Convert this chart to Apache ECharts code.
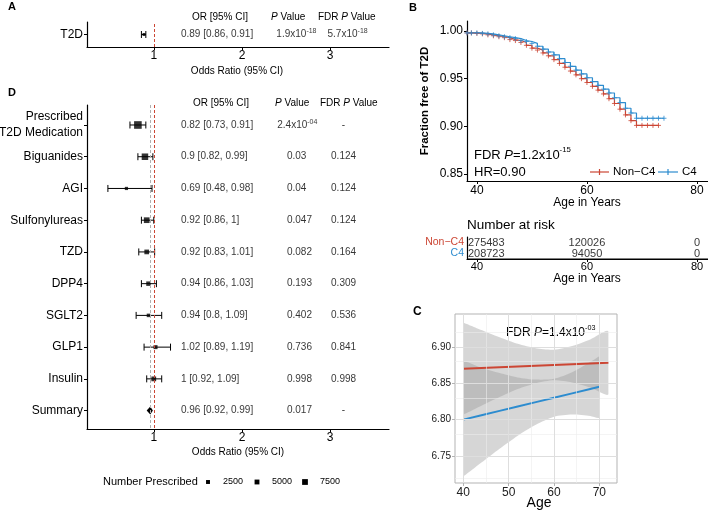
<!DOCTYPE html>
<html>
<head>
<meta charset="utf-8">
<script src="https://cdn.jsdelivr.net/npm/echarts@6.0.0/dist/echarts.min.js"></script>
<style>
html,body{margin:0;padding:0;background:#fff}
#main{width:708px;height:513px}
</style>
</head>
<body>
<div id="main"></div>
<script>
var FONT = '"Liberation Sans", Arial, Helvetica, sans-serif';
var RED = '#cc4634';
var BLUE = '#2d8ccf';

// panel A - T2D
var t2dNames = ['T2D'];
var t2dOR = [0.89];
var t2dLow = [0.86];
var t2dHigh = [0.91];
var t2dORText = ['0.89 [0.86, 0.91]'];
var t2dPText = ['1.9x10^-18'];
var t2dFdrText = ['5.7x10^-18'];

// panel D - medications
var drugs = ['Prescribed\nT2D Medication', 'Biguanides', 'AGI', 'Sulfonylureas', 'TZD', 'DPP4', 'SGLT2', 'GLP1', 'Insulin', 'Summary'];
var drugOR = [0.82, 0.9, 0.69, 0.92, 0.92, 0.94, 0.94, 1.02, 1, 0.96];
var drugLow = [0.73, 0.82, 0.48, 0.86, 0.83, 0.86, 0.8, 0.89, 0.92, 0.92];
var drugHigh = [0.91, 0.99, 0.98, 1, 1.01, 1.03, 1.09, 1.19, 1.09, 0.99];
var nPrescribed = [12500, 9500, 600, 7300, 4600, 4000, 1400, 2700, 4800, null];
var drugORText = ['0.82 [0.73, 0.91]', '0.9 [0.82, 0.99]', '0.69 [0.48, 0.98]', '0.92 [0.86, 1]', '0.92 [0.83, 1.01]', '0.94 [0.86, 1.03]', '0.94 [0.8, 1.09]', '1.02 [0.89, 1.19]', '1 [0.92, 1.09]', '0.96 [0.92, 0.99]'];
var drugPText = ['2.4x10^-04', '0.03', '0.04', '0.047', '0.082', '0.193', '0.402', '0.736', '0.998', '0.017'];
var drugFdrText = ['-', '0.124', '0.124', '0.124', '0.164', '0.309', '0.536', '0.841', '0.998', '-'];
var legendN = [2500, 5000, 7500];

// panel B - survival
var kmAgeNon = [38.2, 39, 40, 41, 42, 43, 44, 45, 46, 47, 48, 49, 50, 51, 52, 53, 54, 55, 56, 57, 58, 59, 60, 61, 62, 63, 64, 65, 66, 67, 68, 69, 70, 71, 72, 73];
var kmNon = [0.998, 0.998, 0.9975, 0.997, 0.996, 0.995, 0.994, 0.993, 0.991, 0.990, 0.988, 0.985, 0.982, 0.980, 0.977, 0.974, 0.970, 0.966, 0.962, 0.958, 0.954, 0.950, 0.946, 0.942, 0.938, 0.934, 0.929, 0.924, 0.918, 0.912, 0.906, 0.901, 0.901, 0.901, 0.901, 0.901];
var kmAgeC4 = [38.2, 39, 40, 41, 42, 43, 44, 45, 46, 47, 48, 49, 50, 51, 52, 53, 54, 55, 56, 57, 58, 59, 60, 61, 62, 63, 64, 65, 66, 67, 68, 69, 70, 71, 72, 73, 74];
var kmC4 = [0.998, 0.998, 0.998, 0.9975, 0.997, 0.996, 0.995, 0.994, 0.993, 0.992, 0.990, 0.989, 0.987, 0.984, 0.981, 0.978, 0.975, 0.971, 0.967, 0.963, 0.959, 0.955, 0.951, 0.947, 0.943, 0.939, 0.935, 0.930, 0.925, 0.919, 0.914, 0.9085, 0.9085, 0.9085, 0.9085, 0.9085, 0.9085];
var riskGroups = ['C4', 'Non\u2212C4'];
var riskAges = [40, 60, 80];
var riskNon = [275483, 120026, 0];
var riskC4 = [208723, 94050, 0];

// panel C - trend by age
var cAgeRed = [40, 44, 48, 52, 56, 60, 64, 68, 72];
var cFitRed = [6.870, 6.871, 6.872, 6.873, 6.874, 6.875, 6.876, 6.877, 6.878];
var cLowRed = [6.807, 6.819, 6.831, 6.842, 6.850, 6.854, 6.851, 6.844, 6.835];
var cHighRed = [6.933, 6.923, 6.913, 6.904, 6.898, 6.896, 6.901, 6.910, 6.921];
var cAgeBlue = [40, 44, 48, 52, 56, 60, 64, 68, 70];
var cFitBlue = [6.800, 6.806, 6.812, 6.818, 6.824, 6.830, 6.836, 6.842, 6.845];
var cLowBlue = [6.722, 6.741, 6.760, 6.778, 6.793, 6.804, 6.807, 6.805, 6.803];
var cHighBlue = [6.878, 6.871, 6.864, 6.858, 6.855, 6.856, 6.865, 6.879, 6.887];

function sqSize(n) { return 3 + n * 0.00037; }

function supText(t) {
  var parts = t.split('^');
  if (parts.length > 1) return '{n|' + parts[0] + '}{s|' + parts[1] + '}';
  return '{n|' + t + '}';
}
var richNum = {
  n: { fontSize: 10, fontFamily: FONT, color: '#000', lineHeight: 13 },
  s: { fontSize: 7, fontFamily: FONT, color: '#000', verticalAlign: 'top' }
};

function pts(xs, ys) { return xs.map(function (x, i) { return [x, ys[i]]; }); }

var blackAxis = { show: true, onZero: false, lineStyle: { color: '#000', width: 1.2 } };

function forestX(gi) {
  return {
    type: 'value', gridIndex: gi, min: 0.243, max: 3.667,
    axisLine: blackAxis, splitLine: { show: false },
    axisTick: { customValues: [1, 2, 3], length: 3, lineStyle: { color: '#000' } },
    axisLabel: { customValues: [1, 2, 3], fontSize: 12, color: '#000', margin: 3, fontFamily: FONT }
  };
}

function errorBars(xi, lows, highs, n) {
  var data = [];
  for (var i = 0; i < n; i++) data.push([lows[i], highs[i], i + 1]);
  return {
    type: 'custom', xAxisIndex: xi, yAxisIndex: xi, silent: true, z: 3,
    data: data,
    renderItem: function (params, api) {
      var y = api.value(2);
      var a = api.coord([api.value(0), y]);
      var b = api.coord([api.value(1), y]);
      var h = 3.5, st = { stroke: '#000', lineWidth: 1 };
      return { type: 'group', children: [
        { type: 'line', shape: { x1: a[0], y1: a[1], x2: b[0], y2: b[1] }, style: st },
        { type: 'line', shape: { x1: a[0], y1: a[1] - h, x2: a[0], y2: a[1] + h }, style: st },
        { type: 'line', shape: { x1: b[0], y1: b[1] - h, x2: b[0], y2: b[1] + h }, style: st }
      ] };
    }
  };
}

function textCol(xi, xval, texts, rows) {
  return {
    type: 'scatter', xAxisIndex: xi, yAxisIndex: xi, symbolSize: 0, silent: true,
    data: texts.map(function (t, i) { return [typeof xval === 'function' ? xval(t) : xval, rows[i], t]; }),
    label: {
      show: true, position: 'right', distance: 0,
      formatter: function (p) { return supText(p.value[2]); },
      rich: richNum
    }
  };
}

// confidence ribbon drawn as one polygon through the axis scales
function ribbon(ages, lows, highs) {
  return {
    type: 'custom', xAxisIndex: 4, yAxisIndex: 4, silent: true, z: 2,
    data: [[ages[0], lows[0]]],
    renderItem: function (params, api) {
      var up = ages.map(function (a, i) { return api.coord([a, highs[i]]); });
      var dn = ages.map(function (a, i) { return api.coord([a, lows[i]]); }).reverse();
      var all = up.concat(dn);
      var xs = all.map(function (p) { return p[0]; }), ys = all.map(function (p) { return p[1]; });
      var box = [[Math.min.apply(null, xs), Math.min.apply(null, ys)], [Math.max.apply(null, xs), Math.max.apply(null, ys)]];
      return { type: 'polygon', shape: { points: all, smooth: 0.25, smoothConstraint: box },
        style: { fill: 'rgba(153,153,153,0.4)' } };
    }
  };
}

var rowIdx = drugs.map(function (d, i) { return i + 1; });
var pX = function (t) { return t.indexOf('^') > 0 ? 2.40 : 2.51; };
var fdrX = function (t) { return t === '-' ? 3.13 : 3.01; };

var sqData = [];
for (var i = 0; i < 9; i++) sqData.push([drugOR[i], i + 1, nPrescribed[i]]);

var option = {
  animation: false,
  textStyle: { fontFamily: FONT },
  grid: [
    { left: 87, top: 22, width: 302, height: 25, outerBoundsMode: 'none', containLabel: false },
    { left: 87, top: 105, width: 302, height: 324, outerBoundsMode: 'none', containLabel: false },
    { left: 467, top: 21, width: 241, height: 160, outerBoundsMode: 'none', containLabel: false },
    { left: 467, top: 237, width: 241, height: 22, outerBoundsMode: 'none', containLabel: false },
    { left: 455, top: 314, width: 162, height: 169, outerBoundsMode: 'none', containLabel: false,
      show: true, borderColor: '#b3b3b3', borderWidth: 1, backgroundColor: '#fff' }
  ],
  xAxis: [
    forestX(0),
    forestX(1),
    {
      type: 'value', gridIndex: 2, min: 38.2, max: 82,
      axisLine: blackAxis, splitLine: { show: false },
      axisTick: { customValues: [40, 60, 80], length: 3, lineStyle: { color: '#000' } },
      axisLabel: { customValues: [40, 60, 80], fontSize: 12, color: '#000', margin: 4 }
    },
    {
      type: 'value', gridIndex: 3, min: 38.2, max: 82, position: 'bottom',
      axisLine: blackAxis, splitLine: { show: false },
      axisTick: { show: true, customValues: [40, 60, 80], length: 3, lineStyle: { color: '#000' } },
      axisLabel: { customValues: [40, 60, 80], fontSize: 11, color: '#000', margin: 2 }
    },
    {
      type: 'value', gridIndex: 4, min: 38.17, max: 73.9,
      axisLine: { show: false }, splitLine: { show: false },
      axisTick: { customValues: [40, 50, 60, 70], length: 3, lineStyle: { color: '#b3b3b3' } },
      axisLabel: { customValues: [40, 50, 60, 70], fontSize: 12, color: '#222', margin: 4 }
    }
  ],
  yAxis: [
    {
      type: 'value', gridIndex: 0, min: 0, max: 2,
      axisLine: blackAxis, splitLine: { show: false },
      axisTick: { customValues: [1], length: 3, lineStyle: { color: '#000' } },
      axisLabel: { customValues: [1], fontSize: 12, color: '#000', margin: 4,
        formatter: function (v) { return t2dNames[Math.round(v) - 1] || ''; } }
    },
    {
      type: 'value', gridIndex: 1, min: 0.37, max: 10.58, inverse: true,
      axisLine: blackAxis, splitLine: { show: false },
      axisTick: { customValues: rowIdx, length: 3, lineStyle: { color: '#000' } },
      axisLabel: { customValues: rowIdx, fontSize: 12, color: '#000', margin: 4, lineHeight: 16,
        formatter: function (v) { return drugs[Math.round(v) - 1] || ''; } }
    },
    {
      type: 'value', gridIndex: 2, min: 0.8427, max: 1.0105,
      axisLine: blackAxis, splitLine: { show: false },
      axisTick: { customValues: [0.85, 0.9, 0.95, 1.0], length: 3, lineStyle: { color: '#000' } },
      axisLabel: { customValues: [0.85, 0.9, 0.95, 1.0], fontSize: 12, color: '#000', margin: 4,
        formatter: function (v) { return v.toFixed(2); } }
    },
    {
      type: 'category', gridIndex: 3, data: riskGroups, position: 'left',
      axisLine: blackAxis, splitLine: { show: false },
      axisTick: { alignWithLabel: true, interval: 0, length: 3, lineStyle: { color: '#000' } },
      axisLabel: { fontSize: 10.5, margin: 3, interval: 0, hideOverlap: false,
        color: function (v) { return v === 'C4' ? BLUE : RED; } }
    },
    {
      type: 'value', gridIndex: 4, min: 6.713, max: 6.945,
      axisLine: { show: false }, splitLine: { show: false },
      axisTick: { customValues: [6.75, 6.8, 6.85, 6.9], length: 3, lineStyle: { color: '#b3b3b3' } },
      axisLabel: { customValues: [6.75, 6.8, 6.85, 6.9], fontSize: 10, color: '#222', margin: 4,
        formatter: function (v) { return v.toFixed(2); } }
    }
  ],
  series: [
    // ---- A ----
    errorBars(0, t2dLow, t2dHigh, 1),
    {
      type: 'scatter', xAxisIndex: 0, yAxisIndex: 0, symbol: 'rect', symbolSize: 3, silent: true, z: 4,
      itemStyle: { color: '#000' },
      data: [[t2dOR[0], 1]],
      markLine: { silent: true, symbol: 'none', label: { show: false },
        data: [{ xAxis: 1, lineStyle: { color: RED, type: [3, 2], width: 1 } }] }
    },
    textCol(0, 1.308, t2dORText, [1]),
    textCol(0, 2.39, t2dPText, [1]),
    textCol(0, 2.97, t2dFdrText, [1]),
    // ---- D ----
    errorBars(1, drugLow, drugHigh, 9),
    {
      type: 'scatter', xAxisIndex: 1, yAxisIndex: 1, symbol: 'rect', silent: true, z: 4,
      symbolSize: function (v) { return sqSize(v[2]); },
      itemStyle: { color: '#000' },
      data: sqData,
      markLine: { silent: true, symbol: 'none', label: { show: false },
        data: [
          { xAxis: drugOR[9], lineStyle: { color: '#b0b0b0', type: [3, 2], width: 1 } },
          { xAxis: 1, lineStyle: { color: RED, type: [3, 2], width: 1 } }
        ] }
    },
    {
      type: 'custom', xAxisIndex: 1, yAxisIndex: 1, silent: true, z: 4,
      data: [[drugLow[9], drugOR[9], drugHigh[9], 10]],
      renderItem: function (params, api) {
        var y = api.value(3);
        var l = api.coord([api.value(0), y]), m = api.coord([api.value(1), y]), r = api.coord([api.value(2), y]);
        var h = 4;
        return { type: 'polygon', shape: { points: [[l[0], l[1]], [m[0], m[1] - h], [r[0], r[1]], [m[0], m[1] + h]] },
          style: { fill: '#000' } };
      }
    },
    textCol(1, 1.308, drugORText, rowIdx),
    textCol(1, pX, drugPText, rowIdx),
    textCol(1, fdrX, drugFdrText, rowIdx),
    // ---- B ----
    {
      type: 'line', xAxisIndex: 2, yAxisIndex: 2, step: 'end', silent: true,
      data: pts(kmAgeNon, kmNon), showAllSymbol: true,
      symbol: 'path://M0,5L10,5M5,0L5,10', symbolSize: 5,
      lineStyle: { color: RED, width: 1.2 },
      itemStyle: { color: RED, borderColor: RED, borderWidth: 1, opacity: 0.8 }
    },
    {
      type: 'line', xAxisIndex: 2, yAxisIndex: 2, step: 'end', silent: true,
      data: pts(kmAgeC4, kmC4), showAllSymbol: true,
      symbol: 'path://M0,5L10,5M5,0L5,10', symbolSize: 5,
      lineStyle: { color: BLUE, width: 1.2 },
      itemStyle: { color: BLUE, borderColor: BLUE, borderWidth: 1, opacity: 0.8 }
    },
    {
      type: 'scatter', xAxisIndex: 3, yAxisIndex: 3, symbolSize: 0, silent: true,
      data: riskAges.map(function (a, i) { return { value: [a, 1, riskNon[i]],
        label: i === 0 ? { align: 'left', offset: [-9, 0] } : {} }; })
        .concat(riskAges.map(function (a, i) { return { value: [a, 0, riskC4[i]],
        label: i === 0 ? { align: 'left', offset: [-9, 0] } : {} }; })),
      label: { show: true, position: 'inside', fontSize: 11, color: '#000',
        formatter: function (p) { return String(p.value[2]); } }
    },
    // ---- C ----
    {
      type: 'line', xAxisIndex: 4, yAxisIndex: 4, silent: true, symbol: 'none', z: 1,
      data: [],
      markLine: { silent: true, symbol: 'none', label: { show: false },
        lineStyle: { color: '#ececec', type: 'solid', width: 0.6 },
        data: [{ xAxis: 45 }, { xAxis: 55 }, { xAxis: 65 }, { yAxis: 6.725 }, { yAxis: 6.775 }, { yAxis: 6.825 }, { yAxis: 6.875 }, { yAxis: 6.925 }]
          .concat([40, 50, 60, 70].map(function (v) { return { xAxis: v, lineStyle: { color: '#dedede', width: 1 } }; }))
          .concat([6.75, 6.8, 6.85, 6.9].map(function (v) { return { yAxis: v, lineStyle: { color: '#dedede', width: 1 } }; }))
      }
    },
    ribbon(cAgeRed, cLowRed, cHighRed),
    ribbon(cAgeBlue, cLowBlue, cHighBlue),
    {
      type: 'line', xAxisIndex: 4, yAxisIndex: 4, silent: true, symbol: 'none', z: 3,
      lineStyle: { color: RED, width: 2 }, data: pts(cAgeRed, cFitRed)
    },
    {
      type: 'line', xAxisIndex: 4, yAxisIndex: 4, silent: true, symbol: 'none', z: 3,
      lineStyle: { color: BLUE, width: 2 }, data: pts(cAgeBlue, cFitBlue)
    }
  ],
  graphic: []
};

var g = option.graphic;
function txt(x, y, text, size, opts) {
  opts = opts || {};
  g.push({
    type: 'text', x: x, y: y, rotation: opts.rot || 0, silent: true,
    style: {
      text: text, fontSize: size, fontFamily: FONT, fontWeight: opts.bold ? 'bold' : 'normal',
      fill: opts.color || '#000', align: opts.align || 'left', verticalAlign: 'middle',
      rich: opts.rich
    }
  });
}
var richHead = {
  h: { fontSize: 10, fontFamily: FONT },
  i: { fontSize: 10, fontFamily: FONT, fontStyle: 'italic' }
};
function richBig(sz) {
  return {
    a: { fontSize: sz, fontFamily: FONT, lineHeight: sz * 1.35 },
    i: { fontSize: sz, fontFamily: FONT, fontStyle: 'italic' },
    s: { fontSize: sz * 0.6, fontFamily: FONT, verticalAlign: 'top' }
  };
}

// panel letters
txt(8, 7, 'A', 11, { bold: true });
txt(8, 93, 'D', 11, { bold: true });
txt(409, 8, 'B', 11, { bold: true });
txt(413, 312, 'C', 12, { bold: true });

// A headers
txt(220, 17, 'OR [95% CI]', 10, { align: 'center' });
txt(271, 17, '{i|P}{h| Value}', 10, { rich: richHead });
txt(318, 17, '{h|FDR }{i|P}{h| Value}', 10, { rich: richHead });
txt(237, 71, 'Odds Ratio (95% CI)', 10, { align: 'center' });

// D headers
txt(221, 103, 'OR [95% CI]', 10, { align: 'center' });
txt(275, 103, '{i|P}{h| Value}', 10, { rich: richHead });
txt(320, 103, '{h|FDR }{i|P}{h| Value}', 10, { rich: richHead });
txt(238, 452, 'Odds Ratio (95% CI)', 10, { align: 'center' });

// size legend
txt(103, 482, 'Number Prescribed', 11);
var legX = [208, 257, 305];
legendN.forEach(function (n, i) {
  var s = sqSize(n);
  g.push({ type: 'rect', silent: true, shape: { x: legX[i] - s / 2, y: 482 - s / 2, width: s, height: s }, style: { fill: '#000' } });
  txt(legX[i] + 15, 482, String(n), 9);
});

// B labels
txt(425, 101, 'Fraction free of T2D', 11.5, { bold: true, align: 'center', rot: Math.PI / 2 });
txt(587, 203, 'Age in Years', 12, { align: 'center' });
txt(474, 155, '{a|FDR }{i|P}{a|=1.2x10}{s|-15}', 13, { rich: richBig(13) });
txt(474, 172, 'HR=0.90', 13);
g.push({ type: 'line', silent: true, shape: { x1: 590, y1: 172, x2: 609, y2: 172 }, style: { stroke: RED, lineWidth: 1.2 } });
g.push({ type: 'line', silent: true, shape: { x1: 599.5, y1: 169, x2: 599.5, y2: 175 }, style: { stroke: RED, lineWidth: 1.2 } });
txt(613, 172, 'Non\u2212C4', 11.5);
g.push({ type: 'line', silent: true, shape: { x1: 658, y1: 172, x2: 678, y2: 172 }, style: { stroke: BLUE, lineWidth: 1.2 } });
g.push({ type: 'line', silent: true, shape: { x1: 668, y1: 169, x2: 668, y2: 175 }, style: { stroke: BLUE, lineWidth: 1.2 } });
txt(682, 172, 'C4', 11.5);
txt(467, 225, 'Number at risk', 13.5);
txt(587, 279, 'Age in Years', 12, { align: 'center' });
// axis line of the risk table
g.push({ type: 'line', silent: true, z: 10, shape: { x1: 467, y1: 259, x2: 708, y2: 259 }, style: { stroke: '#000', lineWidth: 1.2 } });

// C labels
txt(506, 333, '{a|FDR }{i|P}{a|=1.4x10}{s|-03}', 12, { rich: richBig(12) });
txt(539, 503, 'Age', 14, { align: 'center' });

var chart = echarts.init(document.getElementById('main'), null, { renderer: 'canvas' });
chart.setOption(option);
</script>
</body>
</html>
